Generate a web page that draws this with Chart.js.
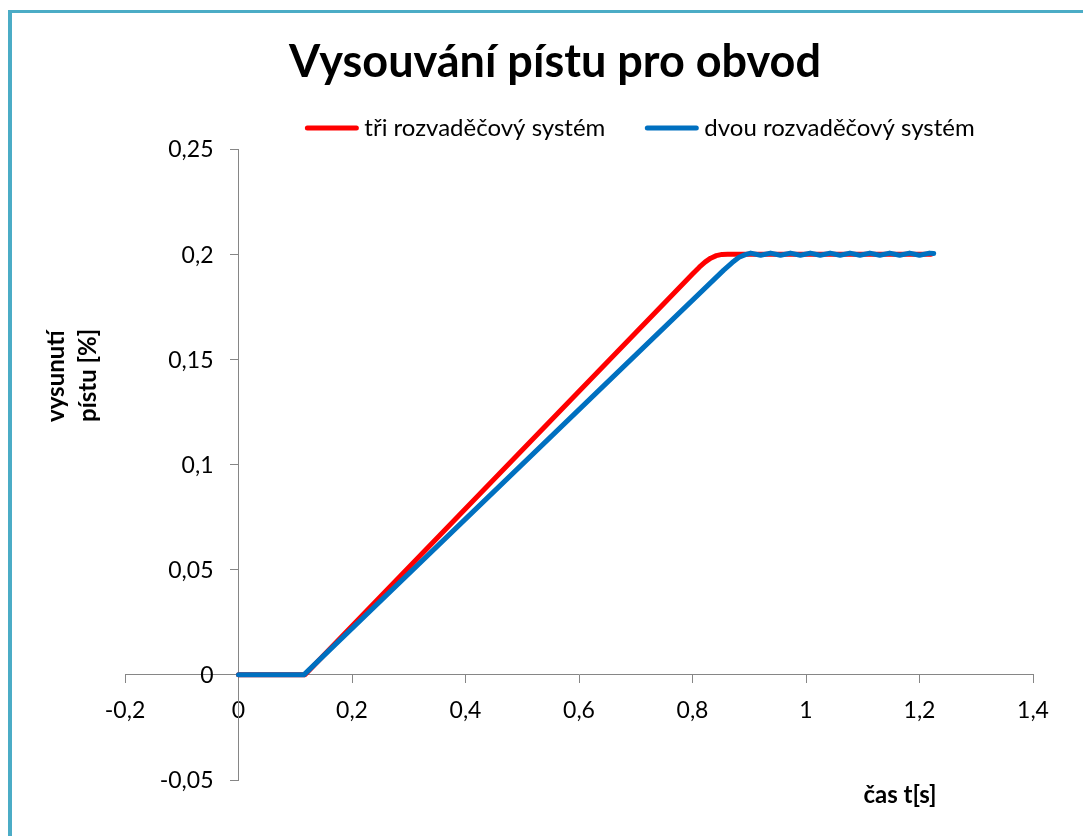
<!DOCTYPE html>
<html lang="cs">
<head>
    <meta charset="UTF-8">
    <title>Vysouvání pístu pro obvod</title>
    <script src="https://cdn.jsdelivr.net/npm/chart.js"></script>
    <style>
        body { margin: 0; background: #fff; }
        #wrap { position: relative; width: 1083px; height: 836px; }
        #ramecek { position: absolute; left: 8px; top: 10px; right: 0; bottom: 0;
                   border-top: 3px solid #4BACC6; border-left: 4px solid #4BACC6; }
        #graf { position: absolute; left: 0; top: 0; }
    </style>
</head>
<body>
<div id="wrap">
    <div id="ramecek"></div>
    <canvas id="graf" width="1083" height="836"></canvas>
</div>
<script>
    // texty
    const nadpis = 'Vysouvání pístu pro obvod';
    const popisX = 'čas t[s]';
    const popisY = ['vysunutí', 'pístu [%]'];
    const nazvyRad = ['tři rozvaděčový systém', 'dvou rozvaděčový systém'];

    // osy
    const xTicks = [-0.2, 0, 0.2, 0.4, 0.6, 0.8, 1, 1.2, 1.4];
    const yTicks = [-0.05, 0, 0.05, 0.1, 0.15, 0.2, 0.25];

    // tři rozvaděčový systém
    const casTri = [0, 0.117, 0.800, 0.812, 0.822, 0.832, 0.842, 0.852, 0.862, 1.220];
    const vysunTri = [0, 0, 0.1906, 0.1938, 0.1962, 0.1981, 0.1993, 0.1999, 0.2000, 0.2000];

    // dvou rozvaděčový systém
    const casDvou = [0, 0.115, 0.855, 0.870, 0.882, 0.893, 0.9025, 0.920, 0.9375, 0.955, 0.9725,
        0.990, 1.0075, 1.025, 1.0425, 1.060, 1.0775, 1.095, 1.1125, 1.130, 1.1475, 1.165,
        1.1825, 1.200, 1.2175, 1.225];
    const vysunDvou = [0, 0, 0.1924, 0.1960, 0.1985, 0.1998, 0.2005, 0.1995, 0.2005, 0.1995, 0.2005,
        0.1995, 0.2005, 0.1995, 0.2005, 0.1995, 0.2005, 0.1995, 0.2005, 0.1995, 0.2005, 0.1995,
        0.2005, 0.1995, 0.2005, 0.2003];

    const barvy = ['#FF0000', '#0070C0'];
    const sedaOsa = '#868686';
    const pismo = 'Lato, "Open Sans", sans-serif';

    const body = (xs, ys) => xs.map((x, i) => ({ x: x, y: ys[i] }));
    const carka = v => String(v).replace('.', ',');

    // nadpis, legenda, popisky osy y a názvy os
    const popisky = {
        id: 'popisky',
        afterDraw(chart) {
            const ctx = chart.ctx;
            ctx.save();
            ctx.fillStyle = '#000';

            ctx.font = 'bold 45px ' + pismo;
            ctx.textAlign = 'center';
            ctx.textBaseline = 'alphabetic';
            ctx.fillText(nadpis, 555, 77);

            // legenda
            ctx.font = '24px ' + pismo;
            const delkaCary = 53, mezera = 6, odstup = 40;
            const sirky = nazvyRad.map(t => ctx.measureText(t).width);
            const celkem = 2 * (delkaCary + mezera) + sirky[0] + sirky[1] + odstup;
            let x = 640 - celkem / 2;
            ctx.textAlign = 'left';
            ctx.lineCap = 'round';
            ctx.lineWidth = 5;
            nazvyRad.forEach((t, i) => {
                ctx.strokeStyle = barvy[i];
                ctx.beginPath();
                ctx.moveTo(x + 2, 128);
                ctx.lineTo(x + delkaCary - 2, 128);
                ctx.stroke();
                x += delkaCary + mezera;
                ctx.fillText(t, x, 136);
                x += sirky[i] + odstup;
            });

            // popisky hodnot na ose y, vlevo od osy
            const osaY = chart.scales.y;
            const x0 = chart.scales.x.getPixelForValue(0);
            ctx.font = '23px ' + pismo;
            ctx.textAlign = 'right';
            ctx.textBaseline = 'middle';
            osaY.ticks.forEach(t => {
                ctx.fillText(carka(t.value), x0 - 25, osaY.getPixelForValue(t.value) + 1);
            });

            // názvy os
            ctx.font = 'bold 24px ' + pismo;
            ctx.textAlign = 'center';
            ctx.textBaseline = 'alphabetic';
            ctx.fillText(popisX, 900, 803);
            ctx.translate(0, 422);
            ctx.rotate(-Math.PI / 2);
            ctx.textAlign = 'left';
            ctx.fillText(popisY[0], 0, 64);
            ctx.fillText(popisY[1], 0, 96);
            ctx.restore();
        }
    };

    new Chart(document.getElementById('graf'), {
        type: 'line',
        data: {
            datasets: [
                {
                    label: nazvyRad[0],
                    data: body(casTri, vysunTri),
                    borderColor: barvy[0],
                    backgroundColor: barvy[0],
                    borderWidth: 5,
                    borderCapStyle: 'round',
                    borderJoinStyle: 'round',
                    pointRadius: 0,
                    tension: 0,
                    order: 2
                },
                {
                    label: nazvyRad[1],
                    data: body(casDvou, vysunDvou),
                    borderColor: barvy[1],
                    backgroundColor: barvy[1],
                    borderWidth: 5,
                    borderCapStyle: 'round',
                    borderJoinStyle: 'round',
                    pointRadius: 0,
                    tension: 0,
                    order: 1
                }
            ]
        },
        options: {
            responsive: false,
            animation: false,
            layout: { padding: { left: 125, right: 50, top: 149, bottom: 56 } },
            plugins: {
                legend: { display: false },
                title: { display: false },
                tooltip: { enabled: false }
            },
            scales: {
                x: {
                    type: 'linear',
                    min: -0.2,
                    max: 1.4,
                    position: { y: 0 },
                    afterBuildTicks: s => { s.ticks = xTicks.map(v => ({ value: v })); },
                    grid: { drawOnChartArea: false, drawTicks: true, tickLength: 8, color: sedaOsa },
                    border: { display: true, color: sedaOsa, width: 1 },
                    ticks: { callback: carka, color: '#000', padding: 14, maxRotation: 0,
                             font: { family: pismo, size: 23 } }
                },
                y: {
                    type: 'linear',
                    min: -0.05,
                    max: 0.25,
                    position: { x: 0 },
                    afterBuildTicks: s => { s.ticks = yTicks.map(v => ({ value: v })); },
                    grid: { drawOnChartArea: false, drawTicks: true, tickLength: 8, color: sedaOsa },
                    border: { display: true, color: sedaOsa, width: 1 },
                    ticks: { display: false }
                }
            }
        },
        plugins: [popisky]
    });
</script>
</body>
</html>
